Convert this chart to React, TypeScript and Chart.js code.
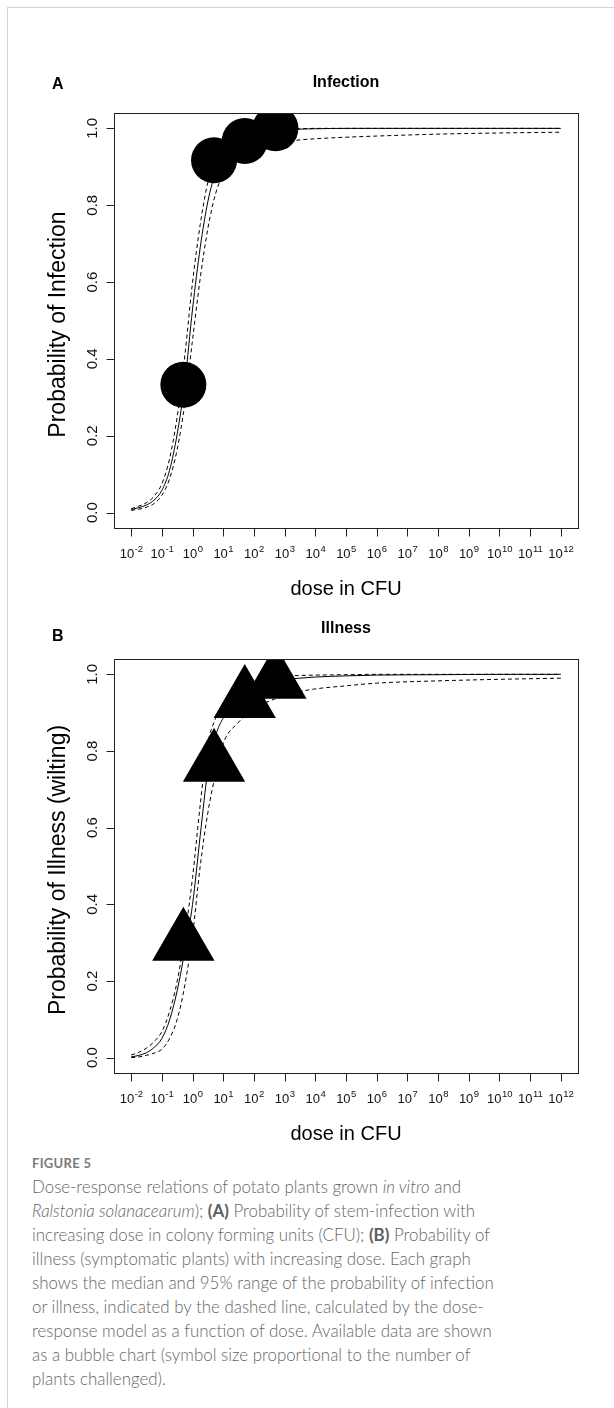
import React, { useEffect, useRef } from "react";
import { Chart, registerables } from "chart.js";

Chart.register(...registerables);

// log10(dose) grid of the model curves
const doseExp = [-2, -1.75, -1.5, -1.25, -1, -0.75, -0.5, -0.25, 0, 0.25, 0.5, 0.75, 1, 1.5, 2, 2.5, 3, 3.5, 4, 5, 6, 8, 10, 12];

// Panel A: infection
const infMedian = [0.008, 0.013, 0.02, 0.033, 0.058, 0.11, 0.205, 0.34, 0.53, 0.69, 0.81, 0.885, 0.925, 0.96, 0.978, 0.989, 0.995, 0.998, 0.999, 1, 1, 1, 1, 1];
const infUpper = [0.01, 0.017, 0.026, 0.043, 0.075, 0.14, 0.25, 0.41, 0.6, 0.75, 0.86, 0.92, 0.95, 0.975, 0.988, 0.995, 0.998, 0.999, 1, 1, 1, 1, 1, 1];
const infLower = [0.006, 0.009, 0.014, 0.024, 0.045, 0.088, 0.165, 0.285, 0.45, 0.61, 0.74, 0.83, 0.88, 0.925, 0.948, 0.96, 0.966, 0.97, 0.973, 0.977, 0.98, 0.985, 0.988, 0.99];

// Panel B: illness
const illMedian = [0.002, 0.006, 0.013, 0.027, 0.05, 0.098, 0.175, 0.28, 0.4, 0.58, 0.75, 0.84, 0.886, 0.935, 0.962, 0.977, 0.986, 0.99, 0.993, 0.996, 0.998, 0.999, 1, 1];
const illUpper = [0.007, 0.014, 0.025, 0.042, 0.068, 0.12, 0.2, 0.32, 0.47, 0.66, 0.82, 0.885, 0.925, 0.962, 0.98, 0.99, 0.995, 0.997, 0.998, 0.999, 1, 1, 1, 1];
const illLower = [0, 0.002, 0.006, 0.012, 0.022, 0.05, 0.1, 0.19, 0.32, 0.5, 0.64, 0.74, 0.82, 0.875, 0.91, 0.93, 0.945, 0.955, 0.962, 0.97, 0.977, 0.983, 0.987, 0.99];

// Observed data (log10 dose, proportion)
const obsDoseExp = [-0.3, 0.7, 1.7, 2.7];
const obsInfection = [0.333, 0.917, 0.967, 1.0];
const obsIllness = [0.3, 0.767, 0.933, 0.983];

// Axis ticks
const xTickExps = [-2, -1, 0, 1, 2, 3, 4, 5, 6, 7, 8, 9, 10, 11, 12];
const yTickValues = [0, 0.2, 0.4, 0.6, 0.8, 1.0];

const FONT = '"Liberation Sans", Arial, Helvetica, sans-serif';

const rAxesPlugin = {
  id: "rAxes",
  afterDraw(chart: any, _args: any, opts: any) {
    const { ctx, chartArea: a, scales } = chart;
    const xs = scales.x;
    const ys = scales.y;
    ctx.save();
    ctx.strokeStyle = "#222";
    ctx.lineWidth = 1;
    const L = Math.round(a.left) + 0.5;
    const R = Math.round(a.right) + 0.5;
    const T = Math.round(a.top) + 0.5;
    const B = Math.round(a.bottom) + 0.5;
    ctx.strokeRect(L, T, R - L, B - T);

    // y axis ticks
    ctx.beginPath();
    for (const v of yTickValues) {
      const y = Math.round(ys.getPixelForValue(v)) + 0.5;
      ctx.moveTo(L - 8, y);
      ctx.lineTo(L, y);
    }
    ctx.stroke();
    // x axis ticks
    ctx.beginPath();
    for (const e of xTickExps) {
      const x = Math.round(xs.getPixelForValue(e)) + 0.5;
      ctx.moveTo(x, B);
      ctx.lineTo(x, B + 8);
    }
    ctx.stroke();

    ctx.fillStyle = "#111";
    // y tick labels (rotated)
    ctx.font = `15px ${FONT}`;
    ctx.textAlign = "center";
    ctx.textBaseline = "alphabetic";
    for (const v of yTickValues) {
      const y = ys.getPixelForValue(v);
      ctx.save();
      ctx.translate(a.left - 17, y);
      ctx.rotate(-Math.PI / 2);
      ctx.fillText(v.toFixed(1), 0, 0);
      ctx.restore();
    }
    // x tick labels 10^e
    ctx.textAlign = "left";
    for (const e of xTickExps) {
      const x = xs.getPixelForValue(e);
      const base = "10";
      const sup = String(e);
      ctx.font = `13px ${FONT}`;
      const wb = ctx.measureText(base).width;
      ctx.font = `9.5px ${FONT}`;
      const ws = ctx.measureText(sup).width;
      const start = x - (wb + ws) / 2;
      const by = a.bottom + 30;
      ctx.font = `13px ${FONT}`;
      ctx.fillText(base, start, by);
      ctx.font = `9.5px ${FONT}`;
      ctx.fillText(sup, start + wb + 0.5, by - 6);
    }

    // titles
    ctx.fillStyle = "#000";
    ctx.textAlign = "center";
    ctx.font = `bold 16px ${FONT}`;
    ctx.fillText(opts.title, (a.left + a.right) / 2, a.top - 26);
    ctx.textAlign = "left";
    ctx.font = `bold 16px ${FONT}`;
    ctx.fillText(opts.letter, 52, a.top - opts.letterDy);

    ctx.textAlign = "center";
    ctx.font = `20px ${FONT}`;
    ctx.fillText(opts.xTitle, (a.left + a.right) / 2, a.bottom + 67);
    ctx.font = `23px ${FONT}`;
    ctx.save();
    ctx.translate(a.left - 49, (a.top + a.bottom) / 2 + 4);
    ctx.rotate(-Math.PI / 2);
    ctx.fillText(opts.yTitle, 0, 0);
    ctx.restore();
    ctx.restore();
  },
};

function pts(ys: number[]) {
  return doseExp.map((x, i) => ({ x, y: ys[i] }));
}

function makeConfig(
  median: number[],
  upper: number[],
  lower: number[],
  obs: number[],
  marker: string,
  radius: number,
  padding: any,
  text: any
): any {
  const curve = (data: number[], dashed: boolean) => ({
    data: pts(data),
    showLine: true,
    borderColor: "#000",
    borderWidth: 1,
    borderDash: dashed ? [4, 3] : [],
    pointRadius: 0,
    pointHoverRadius: 0,
    cubicInterpolationMode: "monotone",
    fill: false,
    clip: 0,
  });
  return {
    type: "scatter",
    data: {
      datasets: [
        curve(median, false),
        curve(upper, true),
        curve(lower, true),
        {
          data: obsDoseExp.map((x, i) => ({ x, y: obs[i] })),
          showLine: false,
          pointStyle: marker,
          pointRadius: radius,
          pointHoverRadius: radius,
          backgroundColor: "#000",
          borderColor: "#000",
          borderWidth: 0,
          clip: 0,
        },
      ],
    },
    options: {
      responsive: false,
      animation: false,
      events: [],
      layout: { padding },
      scales: {
        x: { type: "linear", min: -2.56, max: 12.56, display: false },
        y: { type: "linear", min: -0.04, max: 1.04, display: false },
      },
      plugins: {
        legend: { display: false },
        tooltip: { enabled: false },
        rAxes: text,
      },
    },
    plugins: [rAxesPlugin],
  };
}

function Panel(props: { cfg: () => any; top: number; height: number }) {
  const ref = useRef<HTMLCanvasElement | null>(null);
  useEffect(() => {
    if (!ref.current) return;
    const chart = new Chart(ref.current, props.cfg());
    return () => chart.destroy();
  }, []);
  return (
    <canvas
      ref={ref}
      width={614}
      height={props.height}
      style={{ position: "absolute", left: 0, top: props.top, width: 614, height: props.height }}
    />
  );
}

export default function App() {
  const cfgA = () =>
    makeConfig(infMedian, infUpper, infLower, obsInfection, "circle", 23, { left: 114, right: 36, top: 73, bottom: 72 }, {
      title: "Infection",
      letter: "A",
      letterDy: 24,
      xTitle: "dose in CFU",
      yTitle: "Probability of Infection",
    });
  const cfgB = () =>
    makeConfig(illMedian, illUpper, illLower, obsIllness, "triangle", 36, { left: 114, right: 35, top: 59, bottom: 77 }, {
      title: "Illness",
      letter: "B",
      letterDy: 18,
      xTitle: "dose in CFU",
      yTitle: "Probability of Illness (wilting)",
    });

  const capFont = 'Lato, "Noto Sans", "Open Sans", sans-serif';
  const bold = { fontWeight: 700, color: "#5e5e5e" };
  return (
    <div style={{ position: "absolute", left: 0, top: 0, width: 614, height: 1408, background: "#fff", overflow: "hidden" }}>
      <div
        style={{
          position: "absolute",
          left: 7,
          top: 7,
          width: 640,
          height: 1440,
          borderLeft: "1px solid #d4d4d4",
          borderTop: "1px solid #d4d4d4",
        }}
      />
      <Panel cfg={cfgA} top={40} height={560} />
      <Panel cfg={cfgB} top={600} height={550} />
      <div
        style={{
          position: "absolute",
          left: 32,
          top: 1151,
          fontFamily: capFont,
          fontSize: 16.9,
          fontWeight: 300,
          lineHeight: "24px",
          color: "#666",
          whiteSpace: "nowrap",
        }}
      >
        <div style={{ fontSize: 13, fontWeight: 700, color: "#7a7a7a", letterSpacing: 0.3 }}>FIGURE 5</div>
        <div>
          Dose-response relations of potato plants grown <i>in vitro</i> and
        </div>
        <div>
          <i>Ralstonia solanacearum</i>); <span style={bold}>(A)</span> Probability of stem-infection with
        </div>
        <div>
          increasing dose in colony forming units (CFU); <span style={bold}>(B)</span> Probability of
        </div>
        <div>illness (symptomatic plants) with increasing dose. Each graph</div>
        <div>shows the median and 95% range of the probability of infection</div>
        <div>or illness, indicated by the dashed line, calculated by the dose-</div>
        <div>response model as a function of dose. Available data are shown</div>
        <div>as a bubble chart (symbol size proportional to the number of</div>
        <div>plants challenged).</div>
      </div>
    </div>
  );
}
